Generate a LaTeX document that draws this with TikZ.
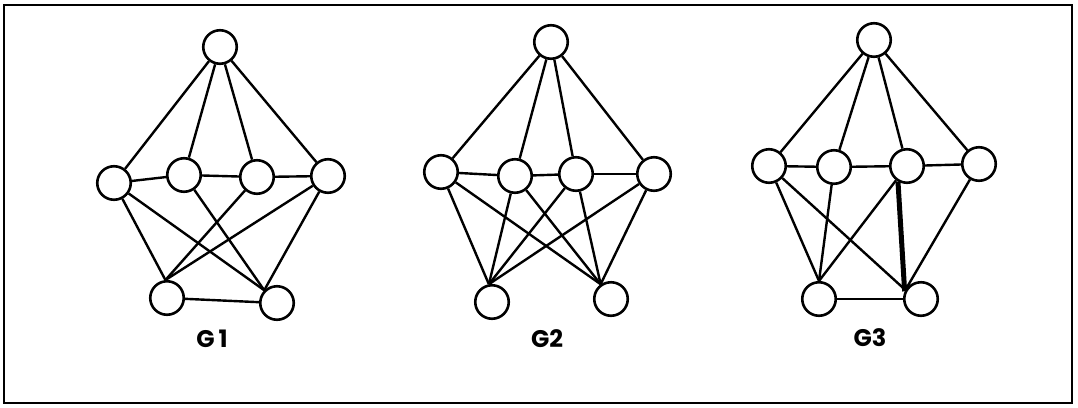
\documentclass[tikz,border=0pt]{standalone}
\usepackage{fontspec}
\setsansfont{Poppins}
\begin{document}
\begin{tikzpicture}[x=1pt,y=-1pt,
  vtx/.style={circle,draw,line width=2.6pt,minimum size=33.5pt,inner sep=0pt,fill=white},
  edge/.style={line width=2.4pt},
  heavy/.style={line width=5pt},
  lbl/.style={font=\sffamily\bfseries\fontsize{24}{24}\selectfont,inner sep=0pt},
  frame/.style={line width=2.2pt}]
\useasboundingbox (0,0) rectangle (1078,407);
\draw[frame] (4,5) rectangle (1072,403);

% ---------- G1 ----------
\node[vtx] (a0) at (220,47) {};
\node[vtx] (a1) at (114,183) {};
\node[vtx] (a2) at (184,175) {};
\node[vtx] (a3) at (257,177) {};
\node[vtx] (a4) at (328,176) {};
\node[vtx] (a5) at (167,298) {};
\node[vtx] (a6) at (277,303) {};
\node[lbl] (la) at (212,339) {G\,1};
\draw[edge] (a0) -- (a1); \draw[edge] (a0) -- (a2);
\draw[edge] (a0) -- (a3); \draw[edge] (a0) -- (a4);
\draw[edge] (a1) -- (a2); \draw[edge] (a2) -- (a3); \draw[edge] (a3) -- (a4);
\draw[edge] (a1) -- (a5.95); \draw[edge] (a1) -- (a6.135);
\draw[edge] (a2) -- (a6.135);
\draw[edge] (a3) -- (a5.95);
\draw[edge] (a4) -- (a5.95); \draw[edge] (a4) -- (a6.135);
\draw[edge] (a5) -- (a6);

% ---------- G2 ----------
\node[vtx] (b0) at (551,42) {};
\node[vtx] (b1) at (441,172) {};
\node[vtx] (b2) at (515,176) {};
\node[vtx] (b3) at (576,174) {};
\node[vtx] (b4) at (654,174) {};
\node[vtx] (b5) at (492,302) {};
\node[vtx] (b6) at (611,299) {};
\node[lbl] (lb) at (547,339) {G2};
\draw[edge] (b0) -- (b1); \draw[edge] (b0) -- (b2);
\draw[edge] (b0) -- (b3); \draw[edge] (b0) -- (b4);
\draw[edge] (b1) -- (b2); \draw[edge] (b2) -- (b3); \draw[edge] (b3) -- (b4);
\foreach \m in {b1,b2,b3,b4}{
  \draw[edge] (\m) -- (b5.100);
  \draw[edge] (\m) -- (b6.125);
}

% ---------- G3 ----------
\node[vtx] (c0) at (874,40) {};
\node[vtx] (c1) at (769,166) {};
\node[vtx] (c2) at (834,167) {};
\node[vtx] (c3) at (907,166) {};
\node[vtx] (c4) at (979,164) {};
\node[vtx] (c5) at (819,299) {};
\node[vtx] (c6) at (921,299) {};
\node[lbl] (lc) at (870,338) {G3};
\draw[edge] (c0) -- (c1); \draw[edge] (c0) -- (c2);
\draw[edge] (c0) -- (c3); \draw[edge] (c0) -- (c4);
\draw[edge] (c1) -- (c2); \draw[edge] (c2) -- (c3); \draw[edge] (c3) -- (c4);
\draw[edge] (c1) -- (c5.north); \draw[edge] (c1) -- (c6.150);
\draw[edge] (c2) -- (c5.north);
\draw[edge] (c3) -- (c5.north);
\draw[heavy] (c3.240) -- (c6.155);
\draw[edge] (c4) -- (c6.150);
\draw[edge] (c5) -- (c6);
\end{tikzpicture}
\end{document}
